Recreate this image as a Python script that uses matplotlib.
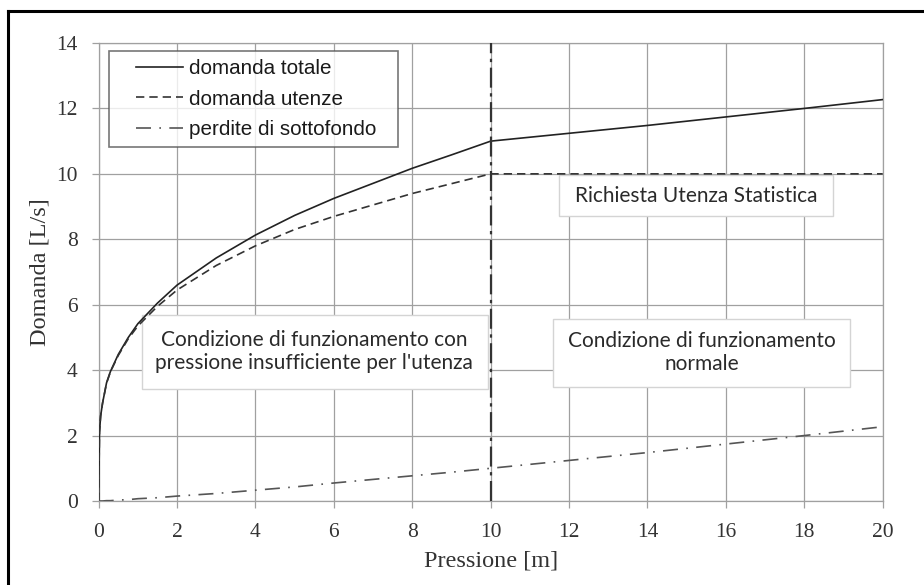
import matplotlib
matplotlib.use("Agg")
import matplotlib.pyplot as plt
from matplotlib.lines import Line2D
from matplotlib.patches import Rectangle
from matplotlib.legend_handler import HandlerLine2D

# values
pressione = [0, 0.02, 0.05, 0.1, 0.2, 0.3, 0.5, 0.75, 1, 1.5, 2, 3, 4, 5, 6, 7,
             8, 9, 10, 12, 14, 16, 18, 20]
dom_utenze = [0, 2.1, 2.6, 3.0, 3.6, 3.95, 4.45, 4.95, 5.35, 5.95, 6.45, 7.2,
              7.8, 8.3, 8.7, 9.05, 9.4, 9.7, 10, 10, 10, 10, 10, 10]
perdite = [0, 0, 0, 0, 0.01, 0.01, 0.03, 0.04, 0.07, 0.1, 0.15, 0.23, 0.33,
           0.43, 0.55, 0.66, 0.77, 0.88, 1.0, 1.24, 1.48, 1.74, 2.0, 2.27]
dom_totale = [0, 2.1, 2.6, 3.0, 3.61, 3.96, 4.48, 4.99, 5.42, 6.05, 6.6, 7.43,
              8.13, 8.73, 9.25, 9.71, 10.17, 10.58, 11.0, 11.24, 11.48, 11.74,
              12.0, 12.27]
soglia = 10

serie_labels = ["domanda totale", "domanda utenze", "perdite di sottofondo"]
xticks = list(range(0, 21, 2))
yticks = list(range(0, 15, 2))

fig = plt.figure(figsize=(9.24, 5.85), dpi=100)
ax = fig.add_axes([0.1068, 0.1436, 0.8485, 0.7829])

grid_c = "#a0a0a0"
ax.set_xlim(0, 20)
ax.set_ylim(0, 14)
ax.set_xticks(xticks)
ax.set_yticks(yticks)
ax.grid(True, color=grid_c, lw=0.9, zorder=0)
for s in ax.spines.values():
    s.set_color(grid_c)
    s.set_linewidth(0.9)
ax.tick_params(colors=grid_c, length=5, width=0.9, labelcolor="#333333",
               labelsize=15.5)
for lab in ax.get_xticklabels() + ax.get_yticklabels():
    lab.set_fontfamily("Liberation Serif")
ax.tick_params(axis="x", pad=11)
ax.tick_params(axis="y", pad=10)

ax.set_xlabel("Pressione [m]", family="Liberation Serif", fontsize=17.5,
              color="#333333")
ax.set_ylabel("Domanda [L/s]", family="Liberation Serif", fontsize=17.5,
              color="#333333")
ax.xaxis.set_label_coords(0.5, -0.108)
ax.yaxis.set_label_coords(-0.061, 0.5)

l1, = ax.plot(pressione, dom_totale, color="#222222", lw=1.2, zorder=4)
l2, = ax.plot(pressione, dom_utenze, color="#333333", lw=1.2,
              dashes=(5, 3), zorder=4)
l3, = ax.plot(pressione, perdite, color="#555555", lw=1.2,
              dashes=(9, 5, 1, 5), zorder=4)
ax.axvline(soglia, color="#333333", lw=1.6, dashes=(9, 2.5, 1.5, 2.5), zorder=5)

# annotation boxes
box_kw = dict(facecolor="white", edgecolor="#d4d4d4", lw=1.0, zorder=3)
ax.add_patch(Rectangle((1.10, 3.42), 8.84, 2.27, **box_kw))
ax.add_patch(Rectangle((11.59, 3.49), 7.58, 2.08, **box_kw))
ax.add_patch(Rectangle((11.74, 8.72), 6.99, 1.25, **box_kw))

txt_kw = dict(family="Lato", fontsize=15, color="#2a2a2a", ha="center",
              va="center", linespacing=1.2, zorder=6)
ax.text(5.50, 4.56, "Condizione di funzionamento con\npressione insufficiente per l'utenza", **txt_kw)
ax.text(15.38, 4.53, "Condizione di funzionamento\nnormale", **txt_kw)
ax.text(15.24, 9.33, "Richiesta Utenza Statistica", **txt_kw)

hmap = {h: HandlerLine2D(xpad=0.92) for h in (l1, l2, l3)}
leg = ax.legend([l1, l2, l3], serie_labels, loc="upper left",
                bbox_to_anchor=(0.0127, 0.0, 0.3694, 0.9825), mode="expand",
                borderaxespad=0, borderpad=0.4, handlelength=3.2,
                handletextpad=0.3, labelspacing=0.55, fancybox=False,
                prop={"family": "Liberation Sans", "size": 14.9},
                handler_map=hmap)
leg.get_frame().set_edgecolor("#555555")
leg.get_frame().set_linewidth(1.2)
leg.set_zorder(7)
for t in leg.get_texts():
    t.set_color("#1a1a1a")

# outer frame (top and left edges)
fig.add_artist(Line2D([8 / 924, 8 / 924], [0, 1 - 11 / 585],
                      color="black", lw=2.2))
fig.add_artist(Line2D([8 / 924, 1], [1 - 11 / 585, 1 - 11 / 585],
                      color="black", lw=2.2))

fig.savefig("out.png", dpi=100)
